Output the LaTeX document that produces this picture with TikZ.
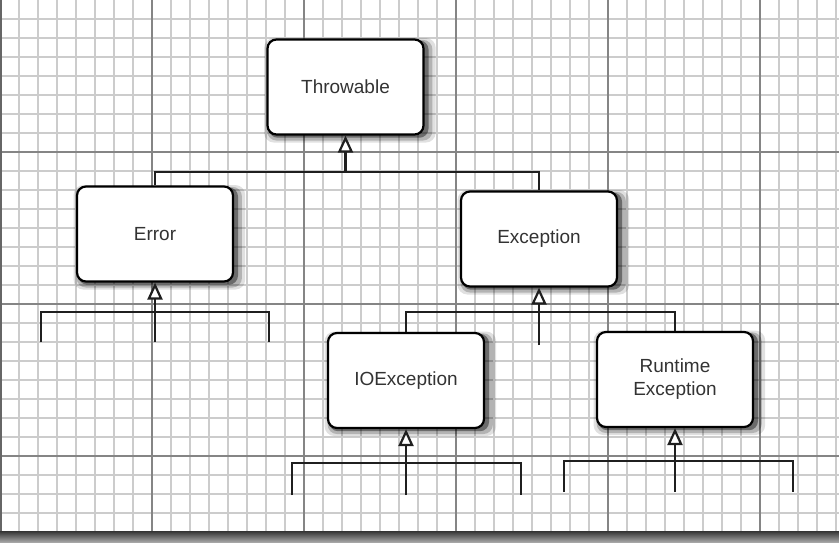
\documentclass[tikz,border=0pt]{standalone}
\usepackage{fontspec}
\setmainfont{Liberation Sans}
\usetikzlibrary{arrows.meta,shadows}
\begin{document}
\begin{tikzpicture}[x=1pt,y=-1pt,
  minorline/.style={line width=1.6pt, draw=black!20},
  majorline/.style={line width=1.6pt, draw=black!48},
  box/.style={draw=black, line width=2.2pt, fill=white, rounded corners=9pt,
    minimum width=156pt, minimum height=95pt, inner sep=0pt, align=center,
    font=\fontsize{19}{23}\selectfont, text=black!80,
    drop shadow={shadow xshift=4pt, shadow yshift=-3pt, opacity=0.12, shadow scale=1.1, fill=black},
    drop shadow={shadow xshift=4pt, shadow yshift=-3pt, opacity=0.2, shadow scale=1.06, fill=black},
    drop shadow={shadow xshift=3pt, shadow yshift=-2pt, opacity=0.4, shadow scale=1.025, fill=black}},
  link/.style={line width=2.4pt, draw=black!88},
  inh/.style={link, -{Triangle[fill=white, length=17pt, width=15pt, line width=2.2pt]}},
]
\useasboundingbox (0,0) rectangle (839,542);
\fill[white] (0,0) rectangle (839,532);
% grid
\foreach \x in {0,19,...,836} \draw[minorline] (\x,0) -- (\x,532);
\foreach \y in {19,38,...,531} \draw[minorline] (0,\y) -- (839,\y);
\foreach \x in {152,304,456,608,760} \draw[majorline] (\x,0) -- (\x,532);
\foreach \y in {152,304,456} \draw[majorline] (0,\y) -- (839,\y);
\draw[line width=1.5pt, draw=black!60] (0.75,0) -- (0.75,532);
\shade[top color=black!80, bottom color=black!35] (0,531) rectangle (839,542);

% nodes
\node[box] (thr) at (345.5,87) {Throwable};
\node[box] (err) at (155,234) {Error};
\node[box] (exc) at (539,239) {Exception};
\node[box] (ioe) at (406,380.5) {IOException};
\node[box] (rte) at (675,379.5) {Runtime\\Exception};

% Throwable level
\coordinate (b1) at (0,172);
\draw[link] (err.north) -- (err.north |- b1) -- (exc.north |- b1) -- (exc.north);
\draw[inh] (thr.south |- b1) -- (thr.south);

% Error subclasses
\coordinate (eL) at (41,342);
\coordinate (eR) at (269,342);
\coordinate (eB) at (0,342);
\draw[link] (eL) -- ++(0,-30) -| (eR);
\draw[inh] (err.south |- eB) -- (err.south);

% Exception subclasses
\coordinate (xb) at (0,312);
\coordinate (xs) at (0,345);
\draw[link] (ioe.north) |- (rte.north |- xb) -- (rte.north);
\draw[inh] (exc.south |- xs) -- (exc.south);

% IOException subclasses
\coordinate (iL) at (292,495);
\coordinate (iR) at (521,495);
\coordinate (iB) at (0,495);
\draw[link] (iL) -- ++(0,-32) -| (iR);
\draw[inh] (ioe.south |- iB) -- (ioe.south);

% RuntimeException subclasses
\coordinate (rL) at (564,492);
\coordinate (rR) at (793,492);
\coordinate (rB) at (0,492);
\draw[link] (rL) -- ++(0,-31) -| (rR);
\draw[inh] (rte.south |- rB) -- (rte.south);
\end{tikzpicture}
\end{document}
